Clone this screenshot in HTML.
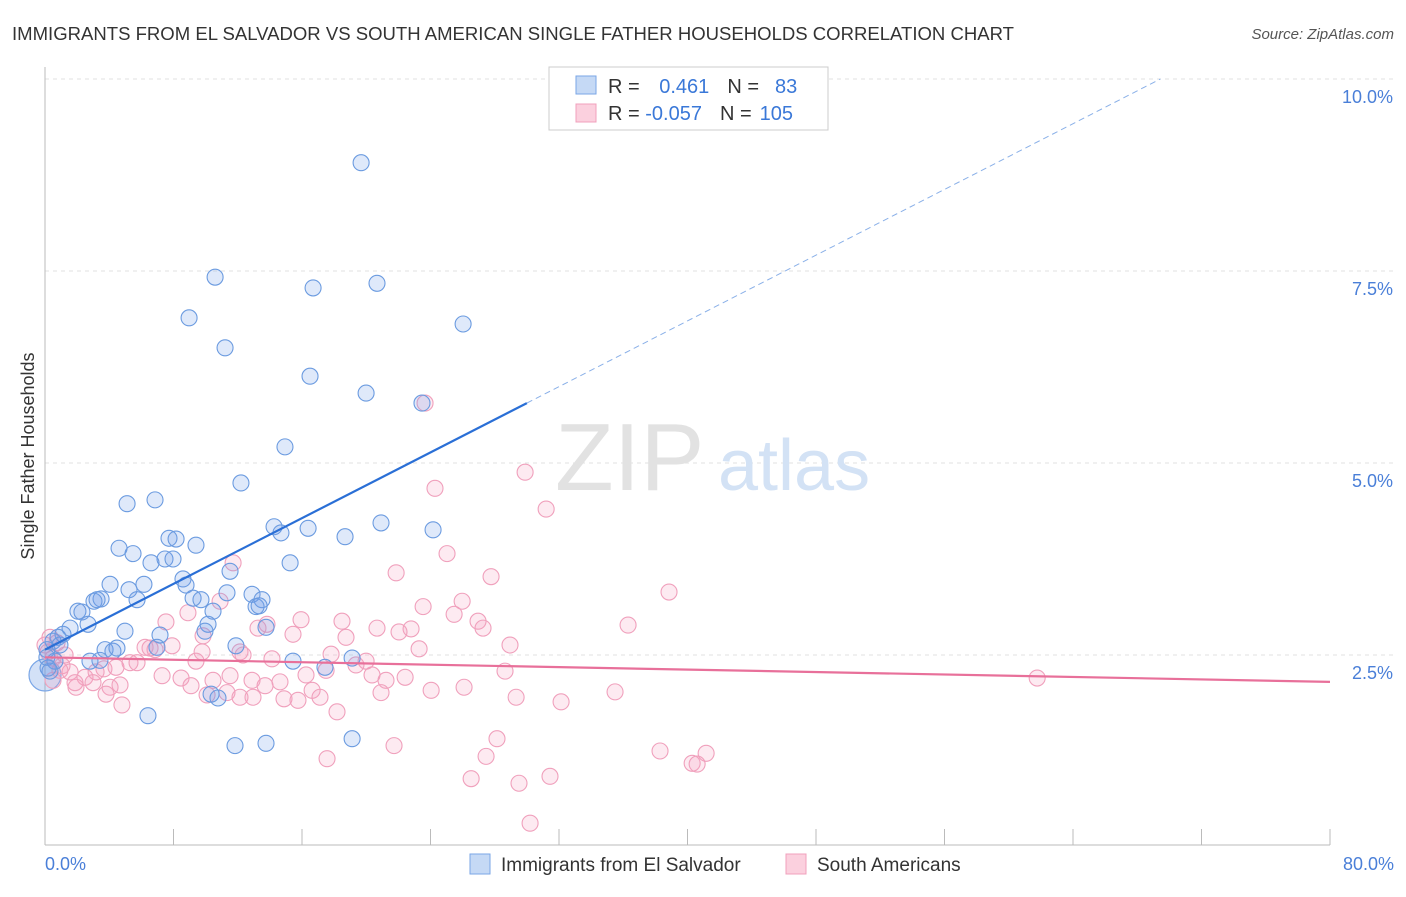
<!DOCTYPE html>
<html><head><meta charset="utf-8"><style>
body{margin:0;background:#fff;font-family:"Liberation Sans",sans-serif;}
svg text{font-family:"Liberation Sans",sans-serif;}
</style></head><body>
<svg id="chart" width="1406" height="892">
<text x="12" y="40" font-size="18" fill="#333" textLength="1002" lengthAdjust="spacingAndGlyphs">IMMIGRANTS FROM EL SALVADOR VS SOUTH AMERICAN SINGLE FATHER HOUSEHOLDS CORRELATION CHART</text>
<text x="1394" y="39" font-size="15" fill="#555" font-style="italic" text-anchor="end">Source: ZipAtlas.com</text>
<g id="grid"></g>
<g><text x="555" y="490" font-size="96" fill="#e2e2e2" font-family="Liberation Serif,serif">ZIP</text><text x="718" y="490" font-size="72" fill="#d3e2f5">atlas</text></g>
<text x="34" y="456" font-size="18" fill="#333" transform="rotate(-90 34 456)" text-anchor="middle">Single Father Households</text>
<g id="yticks"></g>
<text x="45" y="870" font-size="18" fill="#4a7fd8">0.0%</text>
<text x="1394" y="870" font-size="18" fill="#4a7fd8" text-anchor="end">80.0%</text>
<g id="points"></g>
<g id="trends"></g>
<g>
<rect x="549" y="67" width="279" height="63" fill="#fff" stroke="#ccc"/>
<rect x="576" y="76" width="20" height="18" fill="#c5d9f5" stroke="#7aa6e6"/>
<rect x="576" y="104" width="20" height="18" fill="#fbd0de" stroke="#f0a0bc"/>
<text x="608" y="93" font-size="20" fill="#333">R = <tspan fill="#3a78d8" dx="14">0.461</tspan><tspan fill="#333" dx="18">N =</tspan><tspan fill="#3a78d8" dx="16">83</tspan></text>
<text x="608" y="120" font-size="20" fill="#333">R = <tspan fill="#3a78d8">-0.057</tspan><tspan fill="#333" dx="18">N =</tspan><tspan fill="#3a78d8" dx="8">105</tspan></text>
</g>
<g>
<rect x="470" y="854" width="20" height="20" fill="#c5d9f5" stroke="#7aa6e6"/>
<text x="501" y="871" font-size="19" fill="#333">Immigrants from El Salvador</text>
<rect x="786" y="854" width="20" height="20" fill="#fbd0de" stroke="#f0a0bc"/>
<text x="817" y="871" font-size="19" fill="#333">South Americans</text>
</g>
</svg>
<script>
const blueX=[19.68,10.59,16.69,20.67,8.97,26.03,11.21,16.50,19.99,23.47,14.94,12.20,5.11,6.85,14.26,14.69,16.38,20.92,24.16,18.68,4.61,5.48,7.72,8.16,9.40,6.60,7.47,7.97,15.26,11.52,4.05,6.16,8.59,8.78,5.23,5.73,3.49,3.05,3.24,2.05,2.30,9.22,9.71,11.33,12.89,13.51,13.14,13.33,10.46,13.76,4.98,2.68,1.56,1.12,0.81,0.50,0.93,0.12,0.12,7.16,10.15,9.96,11.89,6.97,3.74,4.23,4.48,2.80,15.44,17.43,19.12,0.62,0.31,10.34,10.77,6.41,11.83,13.76,19.12,0.19,3.42];
const blueY=[8.91,7.42,7.28,7.34,6.89,6.81,6.50,6.13,5.91,5.78,5.21,4.74,4.47,4.52,4.17,4.09,4.15,4.22,4.13,4.04,3.89,3.82,4.02,4.01,3.93,3.70,3.75,3.75,3.70,3.59,3.42,3.42,3.49,3.41,3.35,3.22,3.23,3.20,3.22,3.07,3.06,3.24,3.22,3.31,3.29,3.22,3.13,3.14,3.07,2.86,2.81,2.90,2.85,2.77,2.73,2.68,2.63,2.57,2.47,2.76,2.90,2.81,2.62,2.60,2.57,2.55,2.59,2.42,2.42,2.34,2.46,2.42,2.29,1.99,1.94,1.71,1.32,1.35,1.41,2.33,2.43];
const pinkX=[23.66,29.89,24.28,31.20,25.03,11.71,21.86,27.77,38.85,25.97,23.54,25.47,10.90,8.90,7.53,15.94,18.49,26.96,36.30,22.79,27.27,20.67,22.04,15.44,18.74,13.82,13.26,9.84,6.23,7.91,6.54,6.85,9.78,12.33,12.14,17.81,19.99,23.29,28.95,14.13,9.40,5.29,5.73,3.67,4.42,2.49,3.18,1.06,1.56,1.25,0.50,0.75,0.31,0.19,0.93,7.29,8.47,10.46,11.52,14.63,16.25,17.50,19.36,20.36,21.23,22.42,28.64,61.77,2.99,1.93,4.05,4.67,9.09,10.09,11.33,13.70,16.63,14.88,15.75,17.12,20.92,24.04,26.09,35.49,29.33,32.13,3.80,4.79,12.14,12.95,18.18,21.73,28.14,27.46,38.29,41.16,40.29,40.60,17.56,26.53,29.51,31.44,30.20,1.87,0.50,0,12.89];
const pinkY=[5.78,4.88,4.67,4.40,3.82,3.70,3.57,3.52,3.32,3.20,3.13,3.03,3.20,3.05,2.93,2.96,2.94,2.94,2.89,2.84,2.85,2.85,2.80,2.77,2.73,2.90,2.85,2.75,2.60,2.62,2.59,2.57,2.54,2.50,2.54,2.51,2.42,2.58,2.63,2.45,2.42,2.40,2.40,2.32,2.34,2.21,2.28,2.36,2.28,2.50,2.46,2.66,2.73,2.54,2.30,2.23,2.20,2.17,2.23,2.15,2.24,2.30,2.37,2.24,2.17,2.21,2.29,2.20,2.14,2.08,2.08,2.11,2.10,1.98,2.01,2.10,2.04,1.93,1.91,1.95,2.01,2.04,2.08,2.02,1.95,1.89,1.99,1.85,1.95,1.95,1.76,1.32,1.41,1.18,1.25,1.22,1.09,1.08,1.15,0.89,0.83,0.92,0.31,2.14,2.17,2.63,2.17];
const yTicks=[2.5,5.0,7.5,10.0];
const blueTrend=[2.57,0.107]; // intercept, slope
const pinkTrend=[2.47,-0.004];
const NS='http://www.w3.org/2000/svg';
function xs(v){return 45+v/80*1285;}
function ys(v){return 847-v/2.5*192;}
function mk(t,a,p){const e=document.createElementNS(NS,t);for(const k in a)e.setAttribute(k,a[k]);p.appendChild(e);return e;}
const grid=document.getElementById('grid'),yt=document.getElementById('yticks');
yTicks.forEach(v=>{
  const l=mk('line',{x1:45,x2:1394,y1:ys(v),y2:ys(v),stroke:'#e2e2e2','stroke-dasharray':'4,4'},grid);
  
  
  const t=mk('text',{x:1393,y:ys(v)+24,'font-size':18,fill:'#4a7fd8','text-anchor':'end'},yt);
  t.textContent=v.toFixed(1)+'%';
  
  
});
mk('line',{x1:45,x2:45,y1:67,y2:845,stroke:'#bbb'},grid);
mk('line',{x1:45,x2:1330,y1:845,y2:845,stroke:'#bbb'},grid);
for(let i=0;i<=10;i++){mk('line',{x1:xs(i*8),x2:xs(i*8),y1:829,y2:845,stroke:'#bbb'},grid);}
const pts=document.getElementById('points');
const big=mk('circle',{cx:xs(0),cy:ys(2.24),r:16,fill:'rgba(110,155,230,0.3)',stroke:'#7aa6e6','stroke-width':1.2},pts);


pinkX.forEach((x,i)=>{
  const c=mk('circle',{cx:xs(x),cy:ys(pinkY[i]),r:8,fill:'rgba(245,160,190,0.22)',stroke:'#f0a0bc','stroke-width':1.1},pts);
  
  
});
blueX.forEach((x,i)=>{
  const c=mk('circle',{cx:xs(x),cy:ys(blueY[i]),r:8,fill:'rgba(110,155,230,0.22)',stroke:'#6b9be0','stroke-width':1.1},pts);
  
  
});
const tr=document.getElementById('trends');
const b1=mk('line',{x1:xs(0),y1:ys(blueTrend[0]),x2:xs(30),y2:ys(blueTrend[0]+30*blueTrend[1]),stroke:'#2a6fd6','stroke-width':2.2},tr);


const xe=(10-blueTrend[0])/blueTrend[1];
const b2=mk('line',{x1:xs(30),y1:ys(blueTrend[0]+30*blueTrend[1]),x2:xs(xe),y2:ys(10),stroke:'#8ab0e8','stroke-width':1,'stroke-dasharray':'6,4'},tr);


const p1=mk('line',{x1:xs(0),y1:ys(pinkTrend[0]),x2:xs(80),y2:ys(pinkTrend[0]+80*pinkTrend[1]),stroke:'#e8709a','stroke-width':2.2},tr);


</script>
</body></html>
